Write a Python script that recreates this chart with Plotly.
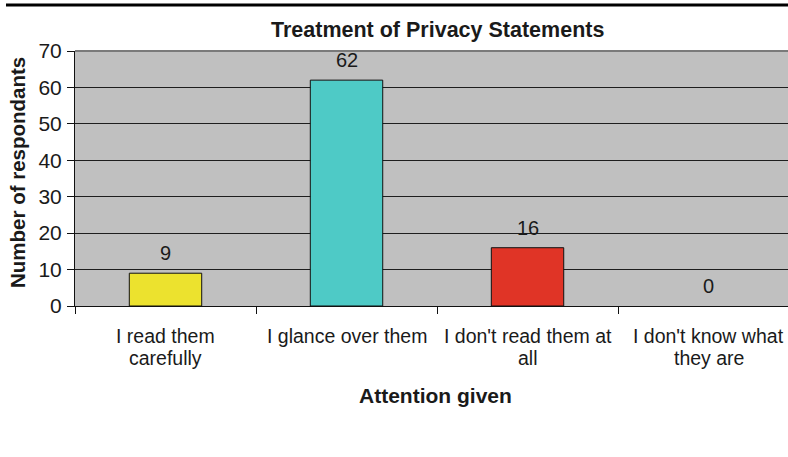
import plotly.graph_objects as go

# Survey responses: how people treat privacy statements
categories = [
    "I read them<br>carefully",
    "I glance over them",
    "I don't read them at<br>all",
    "I don't know what<br>they are",
]
respondents = [9, 62, 16, 0]
bar_colors = ["#ece22e", "#4ecac6", "#e03426", "#c0c0c0"]
y_ticks = [0, 10, 20, 30, 40, 50, 60, 70]

FONT = "Liberation Sans, Arial, sans-serif"
INK = "#1a1a1a"

# page geometry in pixels
W, H = 788, 457
L, R, T, B = 75, 0, 51, 151
pw, ph = W - L - R, H - T - B


def px_to_paper(px, py):
    return (px - L) / pw, (H - B - py) / ph


fig = go.Figure()
fig.add_trace(go.Bar(
    x=categories,
    y=respondents,
    marker=dict(color=bar_colors,
                line=dict(color="#111111",
                          width=[1 if v > 0 else 0 for v in respondents])),
    width=0.4,
    hoverinfo="x+y",
))

# value labels above each bar
for cat, val in zip(categories, respondents):
    fig.add_annotation(
        x=cat, y=val, xref="x", yref="y",
        text=str(val), showarrow=False,
        yshift=20, yanchor="middle",
        font=dict(family=FONT, size=20, color=INK),
    )

# category labels, one annotation per line for tighter line spacing
LINE1_Y, LINE_GAP = 336, 22
for cat in categories:
    for i, line in enumerate(cat.split("<br>")):
        _, y = px_to_paper(0, LINE1_Y + i * LINE_GAP)
        fig.add_annotation(
            x=cat, xref="x", y=y, yref="paper",
            text=line, showarrow=False,
            xanchor="center", yanchor="middle",
            font=dict(family=FONT, size=19.5, color=INK),
        )

fig.update_layout(
    width=W, height=H,
    margin=dict(l=L, r=R, t=T, b=B),
    paper_bgcolor="white",
    plot_bgcolor="#c0c0c0",
    showlegend=False,
    font=dict(family=FONT, color=INK),
    xaxis=dict(
        type="category",
        range=[-0.5, 3.439],
        showline=True, linecolor="#111111", linewidth=1,
        ticks="outside", tickson="boundaries", ticklen=7,
        tickcolor="#111111",
        showgrid=False,
        showticklabels=False,
    ),
    yaxis=dict(
        range=[0, 70],
        tickvals=y_ticks,
        showline=True, linecolor="#111111", linewidth=1,
        ticks="outside", ticklen=7, tickcolor="#111111",
        showgrid=True, gridcolor="#1e1e1e", gridwidth=1,
        zeroline=False,
        tickfont=dict(family=FONT, size=21, color=INK),
        ticklabelstandoff=1,
    ),
    bargap=0.6,
)

# chart title and axis titles
titles = [
    ("<b>Treatment of Privacy Statements</b>", 437, 30, 0, 21.5),
    ("<b>Attention given</b>", 435, 395, 0, 21),
    ("<b>Number of respondants</b>", 17, 173, -90, 20.5),
]
for text, px, py, angle, size in titles:
    x, y = px_to_paper(px, py)
    fig.add_annotation(
        text=text, showarrow=False, xref="paper", yref="paper",
        x=x, y=y, xanchor="center", yanchor="middle", textangle=angle,
        font=dict(family=FONT, size=size, color=INK),
    )

# plot-area top border and the rule across the top of the page
fig.add_shape(type="line", xref="paper", yref="paper",
              x0=0, x1=1, y0=1, y1=1,
              line=dict(color="#7a7a7a", width=2))
x0, y0 = px_to_paper(6, 5)
fig.add_shape(type="line", xref="paper", yref="paper",
              x0=x0, x1=1.0, y0=y0, y1=y0,
              line=dict(color="#000000", width=3))

fig.write_html("out.html")
